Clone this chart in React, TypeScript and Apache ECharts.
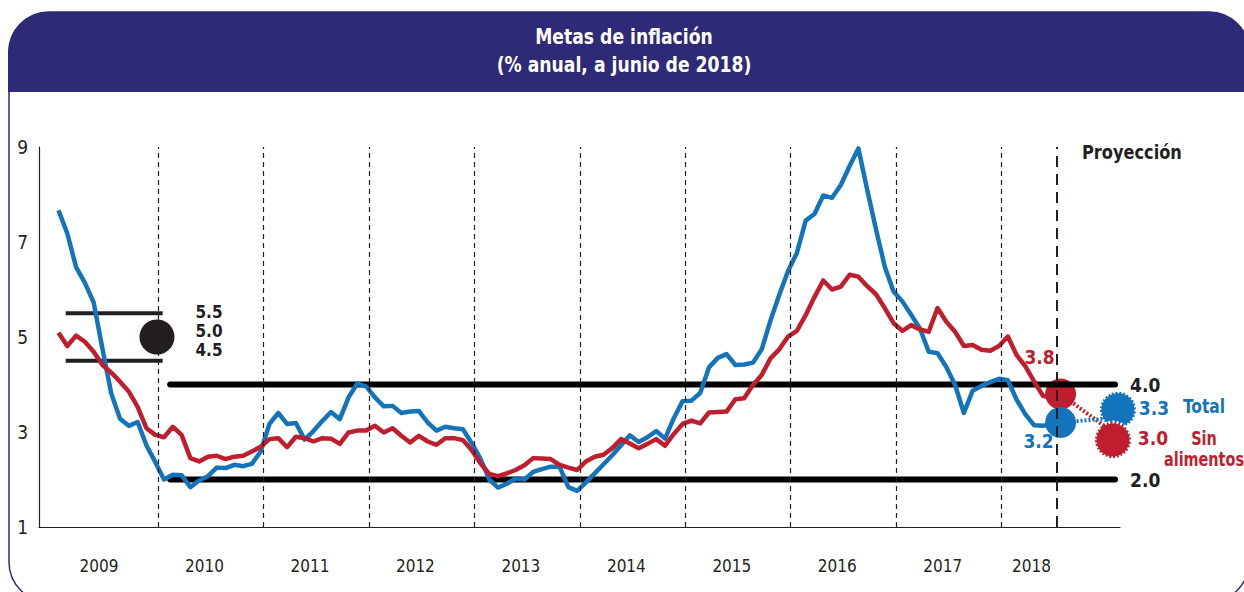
import React, { useEffect, useRef } from "react";
import * as echarts from "echarts";

// Monthly annual inflation, index 0 = Dec 2008 ... index 114 = Jun 2018
const total = [
  7.67,
  7.18, 6.47, 6.14, 5.73, 4.75, 3.81, 3.28, 3.13, 3.21, 2.72, 2.37, 2.0,
  2.1, 2.09, 1.84, 1.98, 2.07, 2.25, 2.24, 2.31, 2.28, 2.33, 2.59, 3.17,
  3.4, 3.17, 3.19, 2.84, 3.02, 3.23, 3.42, 3.27, 3.73, 4.02, 3.96, 3.73,
  3.54, 3.55, 3.4, 3.43, 3.44, 3.2, 3.03, 3.11, 3.08, 3.06, 2.77, 2.44,
  2.0, 1.83, 1.91, 2.02, 2.0, 2.16, 2.22, 2.27, 2.27, 1.84, 1.76, 1.94,
  2.13, 2.32, 2.51, 2.72, 2.93, 2.79, 2.89, 3.02, 2.86, 3.29, 3.65, 3.66,
  3.82, 4.36, 4.56, 4.64, 4.41, 4.42, 4.46, 4.74, 5.35, 5.89, 6.39, 6.77,
  7.45, 7.59, 7.98, 7.93, 8.2, 8.6, 8.97, 8.1, 7.27, 6.48, 5.96, 5.75,
  5.47, 5.18, 4.69, 4.66, 4.37, 3.99, 3.4, 3.87, 3.97, 4.05, 4.12, 4.09,
  3.68, 3.37, 3.14, 3.13, 3.16, 3.2,
];
const sinAlimentos = [
  5.09,
  4.81, 5.03, 4.9, 4.69, 4.41, 4.25, 4.06, 3.85, 3.53, 3.08, 2.94, 2.89,
  3.11, 2.94, 2.45, 2.38, 2.48, 2.5, 2.43, 2.48, 2.5, 2.59, 2.69, 2.85,
  2.87, 2.68, 2.9, 2.87, 2.8, 2.87, 2.86, 2.75, 2.99, 3.03, 3.03, 3.13,
  2.99, 3.08, 2.92, 2.78, 2.92, 2.8, 2.73, 2.87, 2.87, 2.83, 2.62, 2.34,
  2.12, 2.07, 2.13, 2.2, 2.3, 2.45, 2.44, 2.43, 2.31, 2.25, 2.2, 2.38,
  2.48, 2.52, 2.66, 2.85, 2.76, 2.66, 2.75, 2.85, 2.71, 2.96, 3.17, 3.24,
  3.18, 3.41, 3.42, 3.43, 3.69, 3.71, 3.99, 4.2, 4.55, 4.74, 5.01, 5.13,
  5.46, 5.84, 6.19, 6.0, 6.06, 6.31, 6.27, 6.07, 5.9, 5.61, 5.29, 5.13,
  5.25, 5.16, 5.11, 5.61, 5.32, 5.11, 4.81, 4.83, 4.73, 4.71, 4.81, 5.01,
  4.62, 4.38, 4.06, 3.76, 3.72, 3.8,
];
const years = ["2009", "2010", "2011", "2012", "2013", "2014", "2015", "2016", "2017", "2018"];
const yTicks = [1, 3, 5, 7, 9];
const target2009 = [4.5, 5.0, 5.5]; // low, mid, high
const targetRange = [2.0, 4.0];
const lastTotal = 3.2;
const lastCore = 3.8;
const projTotal = 3.3;
const projCore = 3.0;

const FONT = "'Liberation Sans Narrow', 'DejaVu Sans Condensed', 'Open Sans', sans-serif";
const BLUE = "#1474bb";
const RED = "#bf1e2e";
const INK = "#231f20";
const NAVY = "#2e2a78";

const lastIdx = total.length - 1;
const projX = 120.3;
const yearLabelPos = years.map((_, i) => (i < years.length - 1 ? 4.6 + 12 * i : 110.7));

function txt(text: string, x: number, y: number, color: string, size: number, sx: number, align = "left", lineHeight?: number) {
  return {
    type: "text",
    silent: true,
    x,
    y,
    scaleX: sx,
    style: {
      text,
      x: 0,
      y: 0,
      align,
      verticalAlign: "middle",
      textAlign: align,
      textVerticalAlign: "middle",
      lineHeight,
      fill: color,
      font: `bold ${size}px ${FONT}`,
    },
  };
}

export default function App() {
  const ref = useRef<HTMLDivElement>(null);
  useEffect(() => {
    const chart = echarts.init(ref.current!, null, { renderer: "svg" });
    const boldLabel = (color: string) => ({
      fontFamily: FONT,
      fontWeight: "bold" as const,
      fontSize: 19,
      color,
    });
    const option: any = {
      animation: false,
      backgroundColor: "#fff",
      grid: { left: 39, right: 124, top: 147, bottom: 65 },
      xAxis: {
        type: "value",
        min: -2.22,
        max: 120.76,
        splitLine: { show: false },
        axisTick: { show: false },
        axisLine: { show: true, onZero: false, lineStyle: { color: INK, width: 1.2 } },
        axisLabel: {
          customValues: yearLabelPos,
          margin: 30,
          fontFamily: FONT,
          fontSize: 17,
          color: INK,
          formatter: (v: number) => {
            let best = 0;
            yearLabelPos.forEach((p, i) => {
              if (Math.abs(p - v) < Math.abs(yearLabelPos[best] - v)) best = i;
            });
            return years[best];
          },
        },
      },
      yAxis: {
        type: "value",
        min: yTicks[0],
        max: yTicks[yTicks.length - 1],
        interval: 2,
        splitLine: { show: false },
        axisTick: { show: false },
        axisLine: { show: true, onZero: false, lineStyle: { color: INK, width: 1.2 } },
        axisLabel: { margin: 11, fontFamily: FONT, fontSize: 19, color: INK },
      },
      series: [
        {
          type: "line",
          data: [],
          silent: true,
          markLine: {
            silent: true,
            symbol: ["none", "none"],
            label: { show: false },
            lineStyle: { color: INK, type: [5, 4], width: 1.2, opacity: 1 },
            data: [
              ...years.slice(1).map((_, i) => ({ xAxis: 11.3 + 12 * i })),
              { xAxis: 113.6, lineStyle: { color: INK, type: [11, 7], width: 2, opacity: 1 } },
            ],
          },
        },
        {
          type: "line",
          data: [[0.82, target2009[2]], [11.85, target2009[2]]],
          symbol: "none",
          lineStyle: { color: INK, width: 4 },
          silent: true,
        },
        {
          type: "line",
          data: [[0.82, target2009[0]], [11.85, target2009[0]]],
          symbol: "none",
          lineStyle: { color: INK, width: 4 },
          silent: true,
        },
        {
          type: "scatter",
          data: [[11.2, target2009[1]]],
          symbol: "circle",
          symbolSize: 35,
          itemStyle: { color: INK, opacity: 1 },
          label: {
            show: true,
            position: "right",
            distance: 21,
            offset: [0, -6],
            formatter: [target2009[2], target2009[1], target2009[0]].map((v) => v.toFixed(1)).join("\n"),
            lineHeight: 19,
            ...boldLabel(INK),
            fontSize: 17,
          },
        },
        ...targetRange.map((t) => ({
          type: "line",
          data: [[12.7, t], [120.2, t]],
          symbol: "none",
          lineStyle: { color: "#000", width: 6, cap: "round" },
          silent: true,
          endLabel: {
            show: true,
            formatter: t.toFixed(1),
            distance: 15,
            ...boldLabel(INK),
          },
        })),
        {
          type: "line",
          data: total.map((v, i) => [i, v]),
          symbol: "none",
          lineStyle: { color: BLUE, width: 4.5, join: "round" },
        },
        {
          type: "line",
          data: sinAlimentos.map((v, i) => [i, v]),
          symbol: "none",
          lineStyle: { color: RED, width: 4.5, join: "round" },
        },
        {
          type: "line",
          data: [[lastIdx, lastCore], [projX - 0.4, projCore]],
          symbol: "none",
          lineStyle: { color: RED, width: 4, type: [2, 2] },
        },
        {
          type: "line",
          data: [[lastIdx, lastTotal], [projX, projTotal]],
          symbol: "none",
          lineStyle: { color: BLUE, width: 4, type: [2, 2] },
        },
        {
          type: "scatter",
          data: [[projX, projTotal]],
          symbolSize: 36,
          symbolOffset: [2, -8],
          itemStyle: { color: BLUE, opacity: 1, borderColor: "#fff", borderWidth: 3, borderType: [2, 2] },
          label: {
            show: true,
            position: "inside",
            offset: [36, -2],
            formatter: projTotal.toFixed(1),
            ...boldLabel(BLUE),
          },
        },
        {
          type: "scatter",
          data: [[projX, projCore]],
          symbolSize: 36,
          symbolOffset: [-3, 8],
          itemStyle: { color: RED, opacity: 1, borderColor: "#fff", borderWidth: 3, borderType: [2, 2] },
          label: {
            show: true,
            position: "inside",
            offset: [40, -2],
            formatter: projCore.toFixed(1),
            ...boldLabel(RED),
          },
        },
        {
          type: "scatter",
          data: [[lastIdx, lastCore]],
          symbolSize: 31,
          itemStyle: { color: RED, opacity: 1 },
          label: {
            show: true,
            position: "inside",
            offset: [-21, -37],
            formatter: lastCore.toFixed(1),
            ...boldLabel(RED),
          },
        },
        {
          type: "scatter",
          data: [[lastIdx, lastTotal]],
          symbolSize: 31,
          itemStyle: { color: BLUE, opacity: 1 },
          label: {
            show: true,
            position: "inside",
            offset: [-22, 18],
            formatter: lastTotal.toFixed(1),
            ...boldLabel(BLUE),
          },
        },
      ],
      graphic: [
        {
          type: "rect",
          silent: true,
          shape: { x: 9, y: 12, width: 1240, height: 590, r: 40 },
          style: { fill: "none", stroke: NAVY, lineWidth: 1.5 },
        },
        {
          type: "rect",
          silent: true,
          shape: { x: 8, y: 12, width: 1242, height: 80, r: [40, 40, 0, 0] },
          style: { fill: NAVY },
        },
        txt("Metas de inflación", 624, 37, "#fff", 22, 0.87, "center"),
        txt("(% anual, a junio de 2018)", 624, 65, "#fff", 22, 0.87, "center"),
        txt("Proyección", 1082, 152, INK, 20, 0.9),
        txt("Total", 1183, 406, BLUE, 20, 0.86),
        txt("Sin\nalimentos", 1204, 448, RED, 20, 0.8, "center", 21),
      ],
    };
    chart.setOption(option);
    return () => chart.dispose();
  }, []);
  return (
    <div
      ref={ref}
      style={{ position: "fixed", left: 0, top: 0, width: 1244, height: 592, background: "#fff" }}
    />
  );
}
